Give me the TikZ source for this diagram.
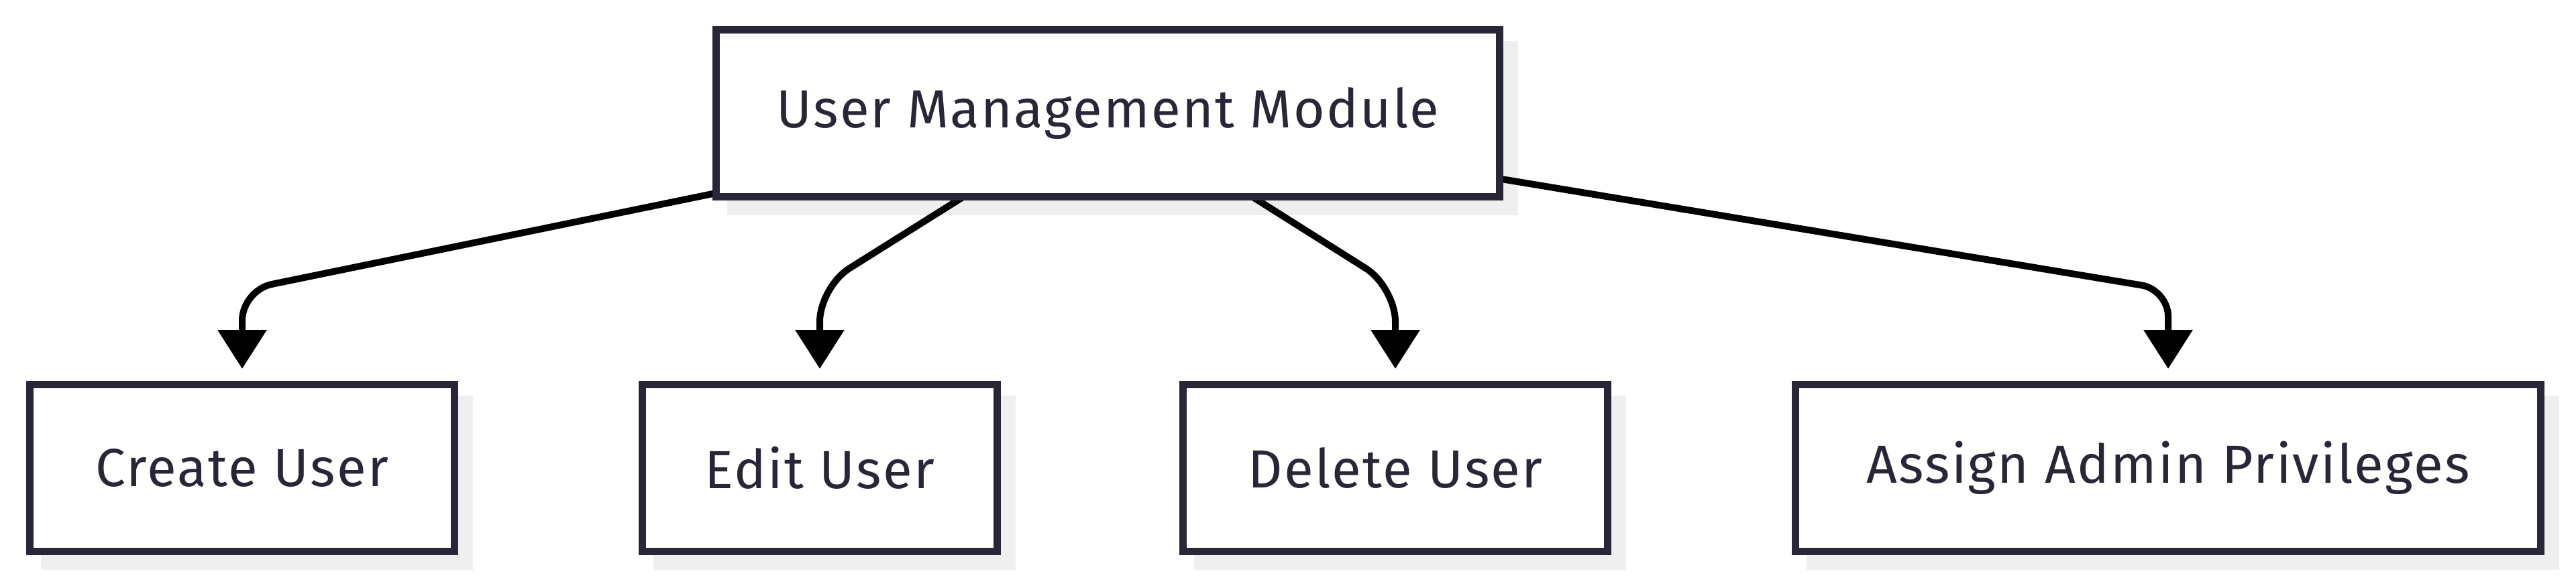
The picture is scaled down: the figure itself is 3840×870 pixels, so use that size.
\documentclass[tikz,border=0pt]{standalone}
\usepackage{fontspec}
\setmainfont{Fira Sans}[LetterSpace=2.9]
\usetikzlibrary{arrows.meta,calc,backgrounds}
\definecolor{navy}{HTML}{272738}
\definecolor{shadowgray}{HTML}{EFEFEF}
\tikzset{
  box/.style={rectangle, draw=navy, line width=11pt, fill=white, text=navy,
    inner sep=0pt, minimum height=249pt,
    font=\fontsize{80}{96}\selectfont},
  conn/.style={draw=black, line width=10pt,
    -{Triangle[length=58pt,width=71pt]}, shorten >=18pt},
}
\newcommand{\boxshadow}[1]{\fill[shadowgray] ($(#1.north west)+(22,22)$) rectangle ($(#1.south east)+(22,22)$);}
\begin{document}
\begin{tikzpicture}[x=1pt,y=-1pt]
\useasboundingbox (0,0) rectangle (3840,870);
\node[box, minimum width=1168pt] (top) at (1651.5,169) {User Management Module};
\node[box, minimum width=633pt] (create) at (361,698) {Create User};
\node[box, minimum width=529pt] (edit) at (1222,698) {Edit User};
\node[box, minimum width=633pt] (delete) at (2080,698) {Delete User};
\node[box, minimum width=1111pt] (assign) at (3232,698) {Assign Admin Privileges};
\coordinate (c1) at (create.north |- 0,433);
\coordinate (c2) at (edit.north |- 0,428);
\coordinate (c3) at (delete.north |- 0,428);
\coordinate (c4) at (assign.north |- 0,432);
\begin{scope}[on background layer]
\boxshadow{top}
\boxshadow{create}
\boxshadow{edit}
\boxshadow{delete}
\boxshadow{assign}
\draw[conn, rounded corners=45pt] ($(top.south west)+(15,-13)$) -- (c1) -- (create.north);
\draw[conn, rounded corners=52pt] ($(top.south)+(-205,-12)$) -- (c2) -- (edit.north);
\draw[conn, rounded corners=52pt] ($(top.south)+(205,-12)$) -- (c3) -- (delete.north);
\draw[conn, rounded corners=40pt] ($(top.south east)+(-15,-34)$) -- (c4) -- (assign.north);
\end{scope}
\end{tikzpicture}
\end{document}
